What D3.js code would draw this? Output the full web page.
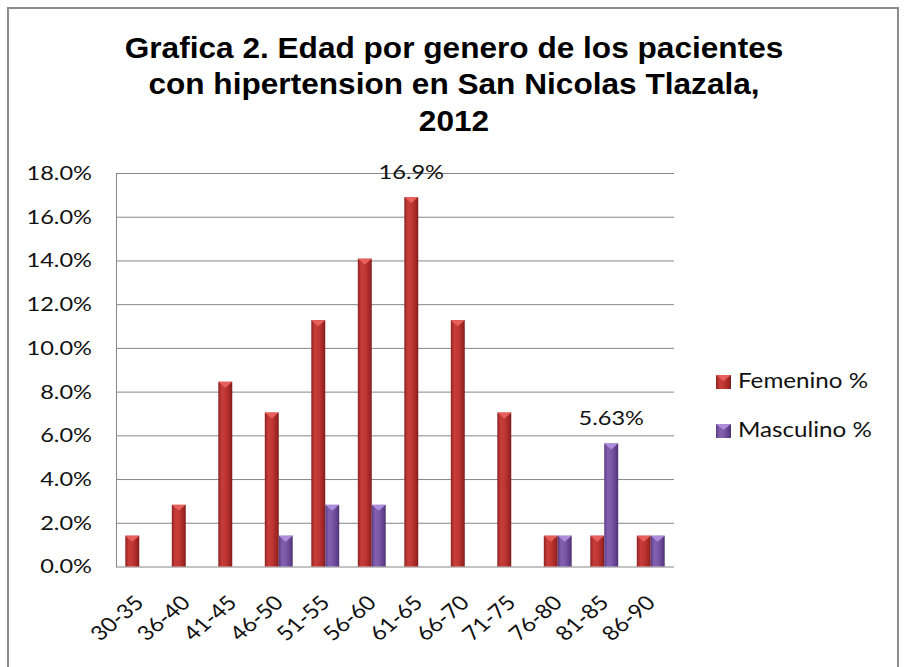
<!DOCTYPE html>
<html>
<head>
<meta charset="utf-8">
<script src="https://cdn.jsdelivr.net/npm/d3@7"></script>
<style>
  body { margin: 0; background: #fff; }
  svg { display: block; }
  .tick text, .lbl, .legend text { font-family: Lato, "Open Sans", sans-serif; fill: #111; }
  .title { font-family: "Liberation Sans", Arial, sans-serif; font-weight: bold; font-size: 29px; fill: #000; }
</style>
</head>
<body>
<svg width="904" height="667"></svg>
<script>
// data
const categories = ['30-35', '36-40', '41-45', '46-50', '51-55', '56-60', '61-65', '66-70', '71-75', '76-80', '81-85', '86-90'];
const femenino = [1.41, 2.82, 8.45, 7.04, 11.27, 14.08, 16.90, 11.27, 7.04, 1.41, 1.41, 1.41];
const masculino = [0, 0, 0, 1.41, 2.82, 2.82, 0, 0, 0, 1.41, 5.63, 1.41];
const seriesNames = ['Femenino %', 'Masculino %'];
const yTicks = [0, 2, 4, 6, 8, 10, 12, 14, 16, 18];
const titleLines = ['Grafica 2. Edad por genero de los pacientes', 'con hipertension en San Nicolas Tlazala,', '2012'];
const pointLabels = [{ s: 0, i: 6, text: '16.9%' }, { s: 1, i: 10, text: '5.63%' }];

const series = [femenino, masculino];
const svg = d3.select('svg');
const sx = 1.18; // picture is stretched sideways

const plotLeft = 116, plotRight = 674, plotTop = 173, plotBottom = 566.5;

// outer frame
svg.append('rect')
    .attr('x', 8).attr('y', 8)
    .attr('width', 890).attr('height', 700)
    .attr('fill', 'none')
    .attr('stroke', '#8c8c8c')
    .attr('stroke-width', 2);

// title
const tg = svg.append('g').attr('transform', `translate(454,0) scale(1.09,1)`);
titleLines.forEach((t, k) => {
    tg.append('text')
        .attr('class', 'title')
        .attr('x', 0)
        .attr('y', 58 + k * 36.5)
        .attr('text-anchor', 'middle')
        .text(t);
});

const x = d3.scaleBand()
    .domain(categories)
    .range([plotLeft, plotRight])
    .paddingInner(0.4)
    .paddingOuter(0.2);

const xs = d3.scaleBand()
    .domain([0, 1])
    .range([0, x.bandwidth()]);

const y = d3.scaleLinear()
    .domain([0, 18])
    .range([plotBottom, plotTop]);

// gradients for the bevelled bars
const defs = svg.append('defs');
const palettes = [
    { id: 'gradRed', stops: ['#8f2220', '#c63d3a', '#bf3633', '#9e2624', '#7e1b19'], cap: '#e8605c' },
    { id: 'gradPurple', stops: ['#583b80', '#8460b2', '#7a57a6', '#603f8b', '#4a3069'], cap: '#ad8ddb' }
];
palettes.forEach(p => {
    const g = defs.append('linearGradient').attr('id', p.id)
        .attr('x1', 0).attr('x2', 1).attr('y1', 0).attr('y2', 0);
    [0, 0.25, 0.55, 0.85, 1].forEach((o, k) => {
        g.append('stop').attr('offset', o).attr('stop-color', p.stops[k]);
    });
});

// grid + y labels
const yAxis = svg.append('g')
    .attr('transform', `translate(${plotLeft},0)`)
    .call(d3.axisLeft(y)
        .tickValues(yTicks)
        .tickSize(-(plotRight - plotLeft))
        .tickSizeOuter(0)
        .tickFormat(d => d.toFixed(1) + '%'));

yAxis.select('.domain').attr('stroke', '#868686');
yAxis.selectAll('.tick line').attr('stroke', '#868686');
yAxis.selectAll('.tick text')
    .attr('x', 0)
    .attr('font-size', 20)
    .attr('transform', `translate(-24,0) scale(${sx},1)`);

// bars
const groups = svg.selectAll('.cat')
    .data(categories)
    .enter()
    .append('g')
    .attr('class', 'cat')
    .attr('transform', d => `translate(${x(d)},0)`);

series.forEach((vals, s) => {
    const w = xs.bandwidth();
    groups.filter((d, i) => vals[i] > 0)
        .append('rect')
        .attr('x', xs(s))
        .attr('y', (d) => y(vals[categories.indexOf(d)]))
        .attr('width', w)
        .attr('height', (d) => plotBottom - y(vals[categories.indexOf(d)]))
        .attr('fill', `url(#${palettes[s].id})`);

    groups.filter((d, i) => vals[i] > 0)
        .append('path')
        .attr('d', (d) => {
            const yy = y(vals[categories.indexOf(d)]);
            const x0 = xs(s);
            return `M${x0},${yy}L${x0 + w},${yy}L${x0 + w / 2},${yy + 6}Z`;
        })
        .attr('fill', palettes[s].cap);
});

// x labels
svg.selectAll('.xlab')
    .data(categories)
    .enter()
    .append('text')
    .attr('class', 'lbl')
    .attr('font-size', 20)
    .attr('text-anchor', 'end')
    .attr('transform', d => `translate(${x(d) + x.bandwidth() / 2 + 6},604) scale(${sx},1) rotate(-45)`)
    .text(d => d);

// data labels
pointLabels.forEach(p => {
    const v = series[p.s][p.i];
    svg.append('text')
        .attr('class', 'lbl')
        .attr('font-size', 20)
        .attr('text-anchor', 'middle')
        .attr('transform', `translate(${x(categories[p.i]) + xs(p.s) + xs.bandwidth() / 2},${y(v) - 18}) scale(${sx},1)`)
        .text(p.text);
});

// legend
const legend = svg.append('g').attr('class', 'legend');
seriesNames.forEach((name, k) => {
    const ly = 375 + k * 49;
    legend.append('rect')
        .attr('x', 716).attr('y', ly)
        .attr('width', 15).attr('height', 14)
        .attr('fill', `url(#${palettes[k].id})`);
    legend.append('path')
        .attr('d', `M716,${ly}L731,${ly}L723.5,${ly + 6}Z`)
        .attr('fill', palettes[k].cap);
    legend.append('text')
        .attr('font-size', 20.5)
        .attr('transform', `translate(738,${ly + 13}) scale(${sx},1)`)
        .text(name);
});
</script>
</body>
</html>
